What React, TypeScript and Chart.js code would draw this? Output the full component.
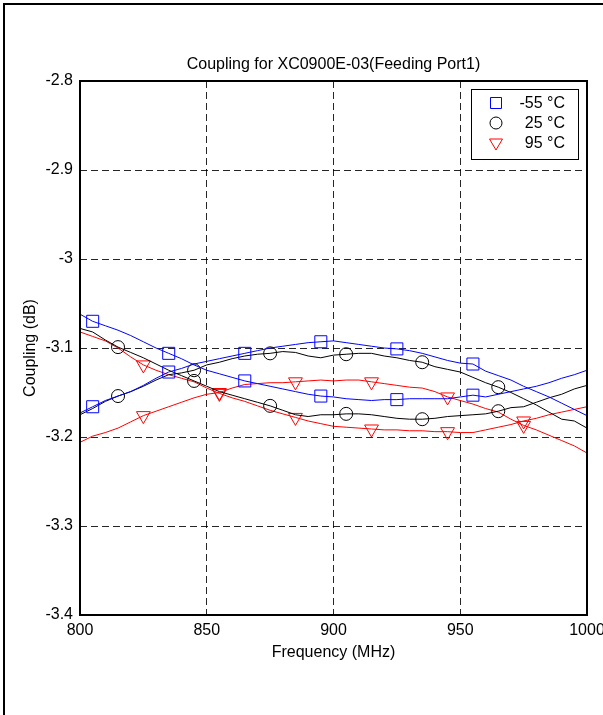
import React, { useEffect, useRef } from 'react';
import { Chart, registerables } from 'chart.js';

Chart.register(...registerables);

const FONT = "'Liberation Sans', Arial, Helvetica, sans-serif";

const freqs = [
  800, 805, 810, 815, 820, 825, 830, 835, 840, 845, 850, 855, 860, 865, 870, 875, 880, 885, 890, 895,
  900, 905, 910, 915, 920, 925, 930, 935, 940, 945, 950, 955, 960, 965, 970, 975, 980, 985, 990, 995, 1000,
];

const xTicks = [800, 850, 900, 950, 1000];
const xTickLabels = ['800', '850', '900', '950', '1000'];
const yTickValues = [-3.4, -3.3, -3.2, -3.1, -3.0, -2.9, -2.8];
const yTickLabels = ['-3.4', '-3.3', '-3.2', '-3.1', '-3', '-2.9', '-2.8'];
const seriesLabels = ['-55 °C', '25 °C', '95 °C'];

// -55 °C, two traces
const blueA = [
  -3.062, -3.070, -3.075, -3.080, -3.086, -3.093, -3.100, -3.106, -3.112, -3.119, -3.125, -3.129, -3.133, -3.137,
  -3.140, -3.143, -3.146, -3.149, -3.152, -3.154, -3.155, -3.157, -3.158, -3.159, -3.158, -3.158, -3.157, -3.157,
  -3.157, -3.157, -3.155, -3.153, -3.155, -3.152, -3.149, -3.146, -3.143, -3.139, -3.134, -3.130, -3.125,
];
const blueB = [
  -3.173, -3.166, -3.159, -3.154, -3.149, -3.142, -3.134, -3.127, -3.123, -3.118, -3.115, -3.112, -3.109, -3.106,
  -3.103, -3.100, -3.098, -3.096, -3.094, -3.093, -3.092, -3.094, -3.096, -3.098, -3.100, -3.101, -3.103, -3.106,
  -3.110, -3.114, -3.117, -3.118, -3.126, -3.131, -3.136, -3.143, -3.149, -3.155, -3.162, -3.169, -3.176,
];
// 25 °C, two traces
const blackA = [
  -3.078, -3.082, -3.091, -3.099, -3.105, -3.111, -3.118, -3.125, -3.131, -3.137, -3.143, -3.149, -3.153, -3.157,
  -3.161, -3.165, -3.170, -3.175, -3.177, -3.175, -3.175, -3.174, -3.174, -3.175, -3.177, -3.179, -3.180, -3.180,
  -3.179, -3.177, -3.176, -3.175, -3.174, -3.171, -3.167, -3.166, -3.161, -3.156, -3.152, -3.146, -3.142,
];
const blackB = [
  -3.175, -3.168, -3.160, -3.154, -3.149, -3.143, -3.136, -3.130, -3.128, -3.125, -3.119, -3.116, -3.112, -3.109,
  -3.107, -3.106, -3.104, -3.105, -3.109, -3.111, -3.108, -3.107, -3.106, -3.106, -3.109, -3.111, -3.114, -3.116,
  -3.121, -3.124, -3.127, -3.133, -3.139, -3.144, -3.150, -3.157, -3.164, -3.172, -3.180, -3.182, -3.190,
];
// 95 °C, two traces
const redA = [
  -3.082, -3.087, -3.092, -3.100, -3.110, -3.119, -3.125, -3.130, -3.134, -3.138, -3.145, -3.151, -3.156, -3.160,
  -3.165, -3.170, -3.174, -3.178, -3.182, -3.185, -3.188, -3.189, -3.190, -3.191, -3.192, -3.192, -3.193, -3.193,
  -3.194, -3.194, -3.195, -3.195, -3.192, -3.189, -3.186, -3.182, -3.179, -3.175, -3.172, -3.169, -3.166,
];
const redB = [
  -3.206, -3.199, -3.195, -3.190, -3.183, -3.176, -3.171, -3.166, -3.161, -3.156, -3.152, -3.150, -3.145, -3.141,
  -3.140, -3.139, -3.139, -3.138, -3.137, -3.136, -3.137, -3.136, -3.136, -3.138, -3.140, -3.142, -3.144, -3.145,
  -3.149, -3.155, -3.159, -3.163, -3.168, -3.172, -3.180, -3.187, -3.192, -3.198, -3.204, -3.210, -3.218,
];

const blueMarkerFreqs = [805, 835, 865, 895, 925, 955];
const blackMarkerFreqs = [815, 845, 875, 905, 935, 965];
const redMarkerFreqs = [825, 855, 885, 915, 945, 975];

const BLUE = '#0000ff';
const BLACK = '#000000';
const RED = '#ff0000';

type Style = { color: string; pointStyle: string; radius: number; rotation: number; markers: number[] };
const styles: Style[] = [
  { color: BLUE, pointStyle: 'rect', radius: 8.5, rotation: 0, markers: blueMarkerFreqs },
  { color: BLACK, pointStyle: 'circle', radius: 6.5, rotation: 0, markers: blackMarkerFreqs },
  { color: RED, pointStyle: 'triangle', radius: 8, rotation: 180, markers: redMarkerFreqs },
];

function makeDataset(values: number[], s: Style, label: string) {
  return {
    label,
    data: freqs.map((f, i) => ({ x: f, y: values[i] })),
    showLine: true,
    borderColor: s.color,
    borderWidth: 1,
    backgroundColor: 'rgba(0,0,0,0)',
    pointStyle: s.pointStyle,
    pointRotation: s.rotation,
    pointBorderColor: s.color,
    pointBackgroundColor: 'rgba(0,0,0,0)',
    pointBorderWidth: 1,
    pointRadius: (ctx: any) => (s.markers.includes(freqs[ctx.dataIndex]) ? s.radius : 0),
    pointHoverRadius: 0,
    tension: 0,
  };
}

const framePlugin = {
  id: 'frame',
  afterDraw(chart: any) {
    const { ctx, chartArea } = chart;
    ctx.save();
    // outer figure border (left and top)
    ctx.fillStyle = '#000';
    ctx.fillRect(3, 3, 2, 712);
    ctx.fillRect(3, 3, 600, 2);
    // axes frame
    ctx.strokeStyle = '#000';
    ctx.lineWidth = 2;
    ctx.strokeRect(chartArea.left, chartArea.top, chartArea.right - chartArea.left, chartArea.bottom - chartArea.top);

    // legend
    const w = 107;
    const h = 70;
    const x0 = Math.round(chartArea.right - 9 - w);
    const y0 = Math.round(chartArea.top + 8);
    ctx.fillStyle = '#fff';
    ctx.fillRect(x0, y0, w, h);
    ctx.lineWidth = 1;
    ctx.strokeRect(x0 + 0.5, y0 + 0.5, w, h);
    ctx.font = `16px ${FONT}`;
    ctx.textAlign = 'right';
    ctx.textBaseline = 'middle';
    seriesLabels.forEach((lab, i) => {
      const s = styles[i];
      const cy = y0 + 14 + i * 20;
      const cx = x0 + 25;
      ctx.strokeStyle = s.color;
      ctx.lineWidth = 1;
      ctx.beginPath();
      if (s.pointStyle === 'rect') {
        ctx.rect(cx - 5.5, cy - 5.5, 11, 11);
      } else if (s.pointStyle === 'circle') {
        ctx.arc(cx, cy, 6, 0, Math.PI * 2);
      } else {
        ctx.moveTo(cx - 6.5, cy - 4);
        ctx.lineTo(cx + 6.5, cy - 4);
        ctx.lineTo(cx, cy + 7);
        ctx.closePath();
      }
      ctx.stroke();
      ctx.fillStyle = '#000';
      ctx.fillText(lab, x0 + w - 13, cy + 1);
    });
    ctx.restore();
  },
};

export default function App() {
  const ref = useRef<HTMLCanvasElement | null>(null);

  useEffect(() => {
    if (!ref.current) return;
    Chart.defaults.font.family = FONT;
    Chart.defaults.color = '#000';
    const chart = new Chart(ref.current, {
      type: 'scatter',
      data: {
        datasets: [
          makeDataset(blueA, styles[0], seriesLabels[0]),
          makeDataset(blueB, styles[0], seriesLabels[0] + ' (2)'),
          makeDataset(blackA, styles[1], seriesLabels[1]),
          makeDataset(blackB, styles[1], seriesLabels[1] + ' (2)'),
          makeDataset(redA, styles[2], seriesLabels[2]),
          makeDataset(redB, styles[2], seriesLabels[2] + ' (2)'),
        ] as any,
      },
      options: {
        responsive: false,
        animation: false,
        devicePixelRatio: 1,
        events: [],
        layout: { padding: { top: 41, right: 16, bottom: 0, left: 0 } },
        plugins: {
          legend: { display: false },
          tooltip: { enabled: false },
          title: {
            display: true,
            text: 'Coupling for XC0900E-03(Feeding Port1)',
            fullSize: false,
            font: { size: 16, weight: 'normal', family: FONT },
            color: '#000',
            padding: { top: 14, bottom: 6.8 },
          },
        },
        scales: {
          x: {
            type: 'linear',
            min: 800,
            max: 1000,
            afterBuildTicks: (scale: any) => {
              scale.ticks = xTicks.map((v) => ({ value: v }));
            },
            afterFit: (scale: any) => {
              scale.height = 100;
              scale.paddingLeft = 0;
              scale.paddingRight = 0;
            },
            ticks: {
              font: { size: 16, family: FONT },
              color: '#000',
              padding: 6,
              maxRotation: 0,
              autoSkip: false,
              callback: (_v: any, i: number) => xTickLabels[i],
            },
            grid: { color: 'rgba(0,0,0,0.85)', lineWidth: 1, drawTicks: false },
            border: { display: false, dash: [7, 4] },
            title: {
              display: true,
              text: 'Frequency (MHz)',
              font: { size: 16, family: FONT },
              color: '#000',
              padding: { top: 0, bottom: 53 },
            },
          },
          y: {
            type: 'linear',
            min: -3.4,
            max: -2.8,
            afterBuildTicks: (scale: any) => {
              scale.ticks = yTickValues.map((v) => ({ value: v }));
            },
            afterFit: (scale: any) => {
              scale.width = 80;
              scale.paddingTop = 0;
              scale.paddingBottom = 0;
            },
            ticks: {
              font: { size: 16, family: FONT },
              color: '#000',
              padding: 7,
              autoSkip: false,
              callback: (_v: any, i: number) => yTickLabels[i],
            },
            grid: { color: 'rgba(0,0,0,0.85)', lineWidth: 1, drawTicks: false },
            border: { display: false, dash: [7, 4] },
            title: {
              display: true,
              text: 'Coupling (dB)',
              font: { size: 16, family: FONT },
              color: '#000',
              padding: { top: 21, bottom: 0 },
            },
          },
        },
      } as any,
      plugins: [framePlugin],
    });
    return () => chart.destroy();
  }, []);

  return (
    <div style={{ position: 'absolute', left: 0, top: 0, width: 603, height: 715, background: '#fff' }}>
      <canvas ref={ref} width={603} height={715} style={{ width: 603, height: 715, display: 'block' }} />
    </div>
  );
}
